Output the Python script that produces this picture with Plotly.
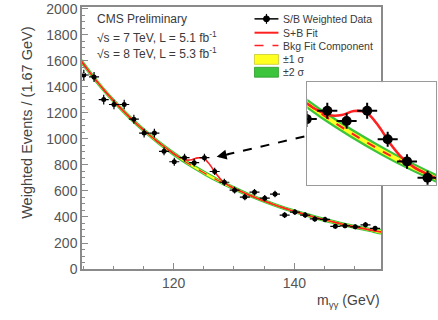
import plotly.graph_objects as go

# ---------------- data ----------------
mass = [105.1, 106.8, 108.4, 110.1, 111.8, 113.4, 115.1, 116.8, 118.4, 120.1,
        121.8, 123.4, 125.1, 126.8, 128.4, 130.1, 131.8, 133.4, 135.1, 136.8,
        138.4, 140.1, 141.8, 143.4, 145.1, 146.8, 148.4, 150.1, 151.8, 153.4]
events = [1492, 1477, 1303, 1265, 1265, 1152, 1045, 1045, 905, 825,
          856, 818, 856, 750, 667, 606, 553, 591, 545, 576,
          415, 438, 415, 385, 381, 328, 332, 324, 340, 313]
events_err = [40, 39, 37, 36, 36, 34, 33, 33, 31, 30,
              30, 29, 30, 28, 27, 26, 25, 25, 24, 25,
              22, 22, 22, 21, 21, 19, 19, 19, 19, 18]
bin_half = 0.83

fit_x = [104.6, 107, 110, 112.5, 115, 117.5, 120, 122.5, 125, 127.5, 130,
         132.5, 135, 137.5, 140, 142.5, 145, 147.5, 150, 152.5, 154.6]
bkg_fit = [1603, 1457, 1295, 1176, 1069, 973, 887, 809, 740, 677, 621,
           569, 523, 481, 444, 410, 378, 350, 324, 301, 283]
sigma1 = [12, 11, 10, 10, 9, 9, 9, 9, 9, 9, 8, 8, 8, 8, 8, 8, 8, 8, 8, 8, 8]
sigma2 = [24, 22, 20, 20, 19, 19, 19, 19, 19, 18, 17, 16, 16, 16, 16, 16, 16, 16, 16, 16, 16]

sb_x = [104.6, 107, 110, 112.5, 115, 117.5, 120, 121, 122, 123, 124, 125, 126,
        127, 128, 129, 130, 132.5, 135, 137.5, 140, 142.5, 145, 147.5, 150, 152.5, 154.6]
sb_fit = [1603, 1457, 1295, 1176, 1069, 973, 887, 858, 839, 840, 855, 850, 802,
          734, 680, 645, 621, 569, 523, 481, 444, 410, 378, 350, 324, 301, 283]

x_ticks = [120, 140]
y_ticks = [0, 200, 400, 600, 800, 1000, 1200, 1400, 1600, 1800, 2000]

legend_labels = ["S/B Weighted Data", "S+B Fit", "Bkg Fit Component", "±1 σ", "±2 σ"]
info_lines = ["CMS Preliminary",
              "√s = 7 TeV, L = 5.1 fb<sup>-1</sup>",
              "√s = 8 TeV, L = 5.3 fb<sup>-1</sup>"]

# ---------------- geometry helpers (pixel -> paper) ----------------
W, H = 438, 320
L, R, T, B = 82, 437, 4, 269   # paper area in pixels
def px(x):
    return (x - L) / (R - L)
def py(y):
    return (B - y) / (B - T)

RED = "#ff2020"
GREEN = "#3dc43d"
YELLOW = "#ffff20"
AXC = "#8a8a8a"
TXT = "#3a3a3a"

fig = go.Figure()

def add_set(xa, ya, big=False):
    lw = 2.6 if big else 1.6
    up2 = [b + s for b, s in zip(bkg_fit, sigma2)]
    lo2 = [b - s for b, s in zip(bkg_fit, sigma2)]
    up1 = [b + s for b, s in zip(bkg_fit, sigma1)]
    lo1 = [b - s for b, s in zip(bkg_fit, sigma1)]
    fig.add_trace(go.Scatter(x=fit_x + fit_x[::-1], y=up2 + lo2[::-1], fill="toself",
                             fillcolor=GREEN, line=dict(width=0, shape="spline"),
                             mode="lines", showlegend=False, hoverinfo="skip",
                             xaxis=xa, yaxis=ya))
    fig.add_trace(go.Scatter(x=fit_x + fit_x[::-1], y=up1 + lo1[::-1], fill="toself",
                             fillcolor=YELLOW, line=dict(width=0, shape="spline"),
                             mode="lines", showlegend=False, hoverinfo="skip",
                             xaxis=xa, yaxis=ya))
    fig.add_trace(go.Scatter(x=fit_x, y=bkg_fit, mode="lines",
                             line=dict(color=RED, width=lw * 0.8, dash="dash", shape="spline"),
                             showlegend=False, xaxis=xa, yaxis=ya))
    fig.add_trace(go.Scatter(x=sb_x, y=sb_fit, mode="lines",
                             line=dict(color=RED, width=lw, shape="spline"),
                             showlegend=False, xaxis=xa, yaxis=ya))
    fig.add_trace(go.Scatter(x=mass, y=events, mode="markers",
                             marker=dict(color="black", size=10 if big else 5),
                             error_y=dict(type="data", array=events_err, color="black",
                                          thickness=2 if big else 1.2, width=0),
                             error_x=dict(type="data", array=[bin_half] * len(mass),
                                          color="black", thickness=2 if big else 1.2, width=0),
                             showlegend=False, xaxis=xa, yaxis=ya))

add_set("x", "y")
add_set("x2", "y2", big=True)

fig.update_layout(
    width=W, height=H,
    margin=dict(l=L, r=W - R, t=T, b=H - B),
    paper_bgcolor="white", plot_bgcolor="white",
    font=dict(family="Liberation Sans, Arial, sans-serif", color=TXT),
    showlegend=False,
    xaxis=dict(domain=[0, px(382)], range=[104.8, 154.4], tickmode="array", tickvals=x_ticks,
               ticks="inside", ticklen=6, tickcolor=AXC, showline=True, linecolor=AXC,
               linewidth=1.5, mirror=True, showgrid=False, zeroline=False,
               tickfont=dict(size=14, color="#555"), ticklabeloverflow="allow",
               minor=dict(tickmode="linear", tick0=0, dtick=5, ticks="inside",
                          ticklen=3, tickcolor=AXC, showgrid=False)),
    yaxis=dict(range=[0, 2015], tickmode="array", tickvals=y_ticks,
               ticks="inside", ticklen=6, tickcolor=AXC, showline=True, linecolor=AXC,
               linewidth=1.5, mirror=True, showgrid=False, zeroline=False,
               tickfont=dict(size=14, color="#555"), ticklabeloverflow="allow",
               minor=dict(tickmode="linear", tick0=0, dtick=50, ticks="inside",
                          ticklen=3, tickcolor=AXC, showgrid=False)),
    xaxis2=dict(domain=[px(308), 1.0], anchor="y2", range=[120.15, 130.8],
                showticklabels=False, ticks="", showline=True, linecolor="#9a9a9a",
                linewidth=1.2, mirror=True, showgrid=False, zeroline=False),
    yaxis2=dict(domain=[py(184), py(80)], anchor="x2", range=[579, 963],
                showticklabels=False, ticks="", showline=True, linecolor="#9a9a9a",
                linewidth=1.2, mirror=True, showgrid=False, zeroline=False),
)

ann = []
shapes = []
# axis titles
ann.append(dict(text="Weighted Events / (1.67 GeV)", textangle=-90, xref="paper", yref="paper",
                x=px(27), y=py(121), xanchor="center", yanchor="middle", showarrow=False,
                font=dict(size=14.5, color="#444")))
ann.append(dict(text="m<sub>γγ</sub> (GeV)", xref="paper", yref="paper",
                x=px(383), y=py(301), xanchor="right", yanchor="middle", showarrow=False,
                font=dict(size=14, color="#444")))
# info text
for i, t in enumerate(info_lines):
    ann.append(dict(text=t, xref="paper", yref="paper", x=px(95), y=py([16, 34, 51][i]),
                    xanchor="left", yanchor="middle", showarrow=False,
                    font=dict(size=12, color=TXT)))
# legend (drawn manually)
rows = [16, 30, 43, 57, 70]
for i, t in enumerate(legend_labels):
    ann.append(dict(text=t, xref="paper", yref="paper", x=px(282), y=py(rows[i]),
                    xanchor="left", yanchor="middle", showarrow=False,
                    font=dict(size=10.5, color=TXT)))
shapes.append(dict(type="line", xref="paper", yref="paper", x0=px(255), x1=px(279),
                   y0=py(rows[0]), y1=py(rows[0]), line=dict(color="black", width=1.5)))
shapes.append(dict(type="circle", xref="paper", yref="paper", x0=px(264), x1=px(270),
                   y0=py(rows[0] + 3), y1=py(rows[0] - 3), fillcolor="black",
                   line=dict(color="black", width=1)))
shapes.append(dict(type="line", xref="paper", yref="paper", x0=px(267), x1=px(267),
                   y0=py(rows[0] + 5), y1=py(rows[0] - 5), line=dict(color="black", width=1.2)))
shapes.append(dict(type="line", xref="paper", yref="paper", x0=px(255), x1=px(279),
                   y0=py(rows[1]), y1=py(rows[1]), line=dict(color=RED, width=2)))
shapes.append(dict(type="line", xref="paper", yref="paper", x0=px(255), x1=px(279),
                   y0=py(rows[2]), y1=py(rows[2]), line=dict(color=RED, width=1.5, dash="dash")))
shapes.append(dict(type="rect", xref="paper", yref="paper", x0=px(255), x1=px(279),
                   y0=py(rows[3] + 5), y1=py(rows[3] - 5), fillcolor=YELLOW,
                   line=dict(color="#c8c830", width=0.8)))
shapes.append(dict(type="rect", xref="paper", yref="paper", x0=px(255), x1=px(279),
                   y0=py(rows[4] + 5), y1=py(rows[4] - 5), fillcolor=GREEN,
                   line=dict(color="#2a9a2a", width=0.8)))
# dashed arrow pointing from the inset to the peak
shapes.append(dict(type="line", xref="paper", yref="paper", x0=px(305), y0=py(135),
                   x1=px(228), y1=py(153), line=dict(color="black", width=2, dash="dash")))
ann.append(dict(text="", xref="paper", yref="paper", x=px(217), y=py(155.5),
                ax=14, ay=-3, axref="pixel", ayref="pixel", showarrow=True,
                arrowhead=2, arrowsize=1, arrowwidth=2, arrowcolor="black"))

fig.update_layout(annotations=ann, shapes=shapes)
fig.write_html("out.html")
